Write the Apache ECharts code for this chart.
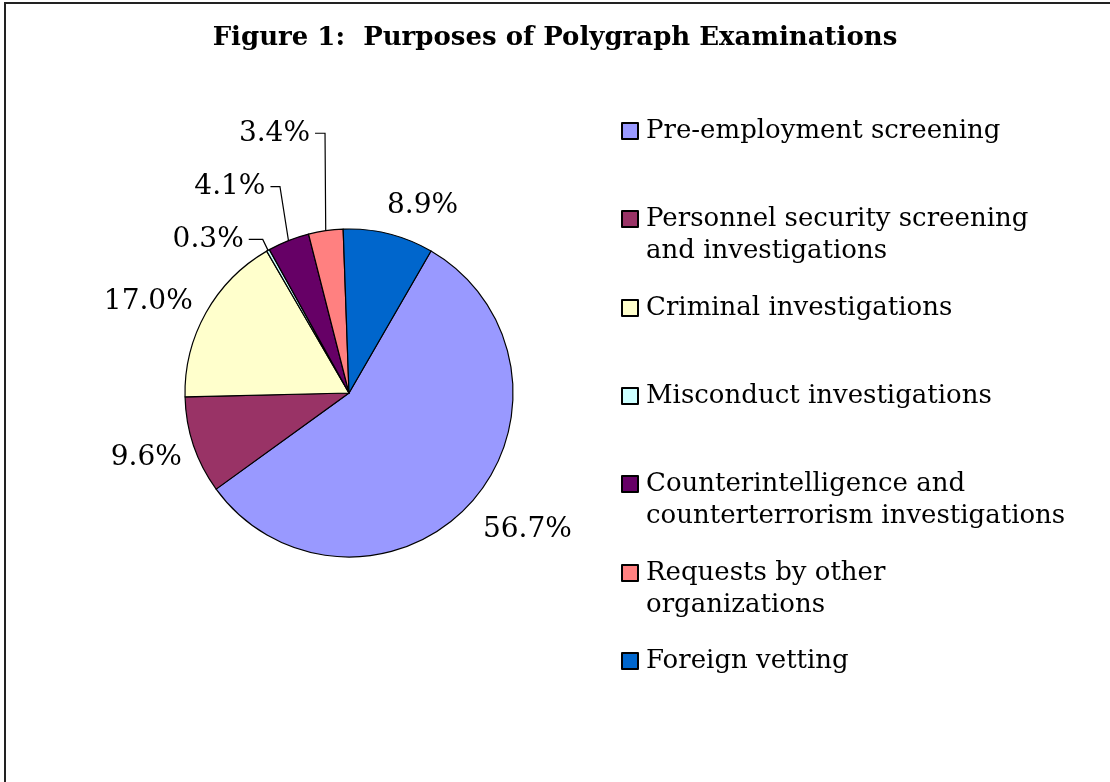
<!DOCTYPE html>
<html>
<head>
<meta http-equiv="Content-Type" content="text/html; charset=utf-8">
<title>Purposes of Polygraph Examinations</title>
<script type="text/javascript" src="https://cdn.jsdelivr.net/npm/echarts@6/dist/echarts.min.js"></script>
<style>
	html, body { margin: 0; padding: 0; background: #fff; }
	#chart { width: 1110px; height: 782px; }
</style>
</head>
<body>
	<div id="chart"></div>
	<script type="text/javascript">

		// purposes, in legend order (clockwise from the first slice)
		var purposes = [ 'Pre-employment screening',
				'Personnel security screening\nand investigations',
				'Criminal investigations', 'Misconduct investigations',
				'Counterintelligence and\ncounterterrorism investigations',
				'Requests by other\norganizations', 'Foreign vetting' ];
		// share of examinations, percent
		var shares = [ 56.7, 9.6, 17.0, 0.3, 4.1, 3.4, 8.9 ];
		var colors = [ '#9999FF', '#993366', '#FFFFCC', '#CCFFFF', '#660066', '#FF8080', '#0066CC' ];

		var serif = '"DejaVu Serif", serif';

		// label placement: [length, length2, show line]
		var labelLines = [ [ 40.6, -23, false ], [ 39.8, -31, false ], [ 22, -11, false ],
				[ 13, 14, true ], [ 58, 8, true ], [ 98, 10, true ], [ 28.7, -13.5, false ] ];
		// elbow offsets from the slice edge for the small slices (with leader lines)
		var elbows = { 3 : [ -5.3, -11, 14 ], 4 : [ -8.5, -54, 9.5 ], 5 : [ -0.7, -97.4, 10 ] };

		var chart = echarts.init(document.getElementById('chart'), null, { renderer : 'canvas' });

		var pieData = [];
		for (var i = 0; i < purposes.length; i++) {
			pieData.push({
				name : purposes[i],
				value : shares[i],
				itemStyle : { color : colors[i] },
				labelLine : {
					show : labelLines[i][2],
					length : labelLines[i][0],
					length2 : labelLines[i][1]
				}
			});
		}

		// one legend per entry so rows sit at the same pitch as the original
		var legendTops = [ 123, 211, 300, 388, 476, 565, 653 ];
		var legends = [];
		for (var j = 0; j < purposes.length; j++) {
			var twoLines = purposes[j].indexOf('\n') >= 0;
			legends.push({
				data : [ purposes[j] ],
				orient : 'vertical',
				left : 621,
				top : legendTops[j] - (twoLines ? 40 : 8),
				padding : 0,
				itemWidth : 16,
				itemHeight : 16,
				icon : 'rect',
				selectedMode : false,
				// blank first line keeps the marker beside the first line of text
				formatter : twoLines ? function(name) {
					return '\n' + name;
				} : '{name}',
				textStyle : {
					fontFamily : serif,
					fontSize : 26,
					lineHeight : 32,
					color : '#000',
					padding : [ 0, 0, 0, 3 ]
				}
			});
		}

		var option = {
			animation : false,
			backgroundColor : '#fff',
			title : {
				text : 'Figure 1:  Purposes of Polygraph Examinations',
				left : 'center',
				top : 25,
				padding : 0,
				textStyle : {
					fontFamily : serif,
					fontWeight : 'bold',
					fontSize : 26,
					color : '#000'
				}
			},
			legend : legends,
			graphic : [ {
				type : 'rect',
				shape : { x : 5, y : 3, width : 1120, height : 800 },
				style : { fill : 'none', stroke : '#222', lineWidth : 2 },
				silent : true
			} ],
			series : [ {
				type : 'pie',
				center : [ 349, 393 ],
				radius : 164,
				startAngle : 60,
				clockwise : true,
				avoidLabelOverlap : false,
				emphasis : { disabled : true },
				itemStyle : { borderColor : '#000', borderWidth : 1.2 },
				label : {
					show : true,
					position : 'outside',
					formatter : function(p) {
						return p.value.toFixed(1) + '%';
					},
					fontFamily : serif,
					fontSize : 28,
					color : '#000',
					distanceToLabelLine : 5
				},
				labelLine : {
					lineStyle : { color : '#000', width : 1.2 },
					smooth : false
				},
				labelLayout : function(params) {
					var e = elbows[params.dataIndex];
					if (!e || !params.labelLinePoints) {
						return {};
					}
					var p0 = params.labelLinePoints[0];
					var p1 = [ p0[0] + e[0], p0[1] + e[1] ];
					var p2 = [ p1[0] - e[2], p1[1] ];
					return {
						x : p2[0] - 5,
						y : p1[1],
						align : 'right',
						verticalAlign : 'middle',
						labelLinePoints : [ p0, p1, p2 ]
					};
				},
				data : pieData
			} ]
		};

		chart.setOption(option);
	</script>
</body>
</html>
